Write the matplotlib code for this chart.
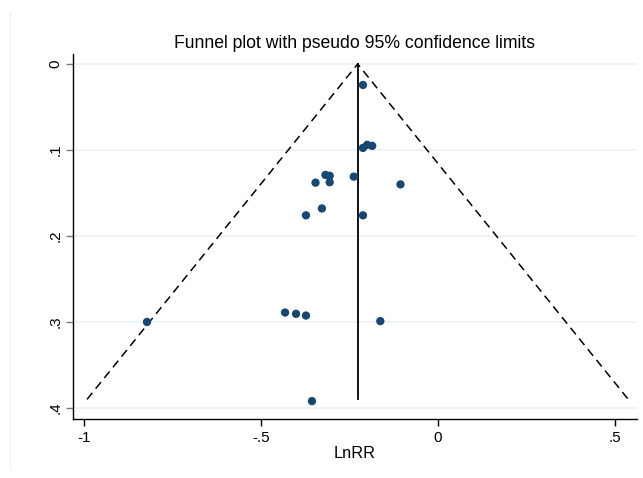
import matplotlib
matplotlib.use("Agg")
import matplotlib.pyplot as plt
from matplotlib.lines import Line2D

plt.rcParams['font.family'] = ['Liberation Sans', 'DejaVu Sans']

# Study effect sizes (log relative risk) and standard errors
lnrr = [-0.212, -0.212, -0.200, -0.186, -0.318, -0.306, -0.306, -0.346, -0.238,
        -0.106, -0.328, -0.373, -0.212, -0.432, -0.401, -0.373, -0.822, -0.163, -0.356]
se = [0.0244, 0.0976, 0.0940, 0.0952, 0.1290, 0.1300, 0.1375, 0.1380, 0.1310,
      0.1400, 0.1680, 0.1760, 0.1760, 0.2890, 0.2905, 0.2925, 0.3000, 0.2990, 0.3920]

pooled = -0.227
se_max = 0.39
z = 1.96

xticks = [-1, -0.5, 0, 0.5]
xticklabels = ["-1", "-.5", "0", ".5"]
yticks = [0, 0.1, 0.2, 0.3, 0.4]
yticklabels = ["0", ".1", ".2", ".3", ".4"]

fig = plt.figure(figsize=(6.43, 4.78), dpi=100)
fig.patch.set_facecolor('white')
ax = fig.add_axes([73/643, 1 - 419/478, (637 - 73)/643, (419 - 54)/478])

# faint outer frame line on the left
fig.add_artist(Line2D([9.5/643, 9.5/643], [1 - 468/478, 1 - 12/478],
                      color='#eeeeee', lw=0.8, transform=fig.transFigure))

ax.set_xlim(-1.031, 0.562)
ax.set_ylim(0.4128, -0.0116)

for yt in yticks:
    ax.axhline(yt, color='#eaf2f3', lw=1.2, zorder=0)

# pseudo 95% confidence limits
ax.plot([pooled - z * se_max, pooled, pooled + z * se_max], [se_max, 0, se_max],
        color='black', ls=(0, (5.5, 3.5)), lw=1.1, zorder=2)
# pooled estimate
ax.plot([pooled, pooled], [0, se_max], color='black', lw=1.3, zorder=2)

ax.scatter(lnrr, se, s=36, color='#1a476f', edgecolors='none', zorder=3)

ax.spines['top'].set_visible(False)
ax.spines['right'].set_visible(False)
ax.spines['left'].set_linewidth(1.0)
ax.spines['bottom'].set_linewidth(1.0)

ax.set_xticks(xticks)
ax.set_xticklabels(xticklabels, fontsize=11)
ax.set_yticks(yticks)
ax.set_yticklabels(yticklabels, fontsize=11, rotation=90, va='center')
ax.tick_params(axis='x', direction='out', length=5, width=1.0, pad=3.5)
ax.tick_params(axis='y', direction='out', length=5, width=1.0, pad=2.5, color='#777777')

ax.set_xlabel("LnRR", fontsize=11.8, labelpad=1)
ax.set_title("Funnel plot with pseudo 95% confidence limits", fontsize=12.7, pad=4)

fig.savefig("out.png", dpi=100, facecolor='white')
